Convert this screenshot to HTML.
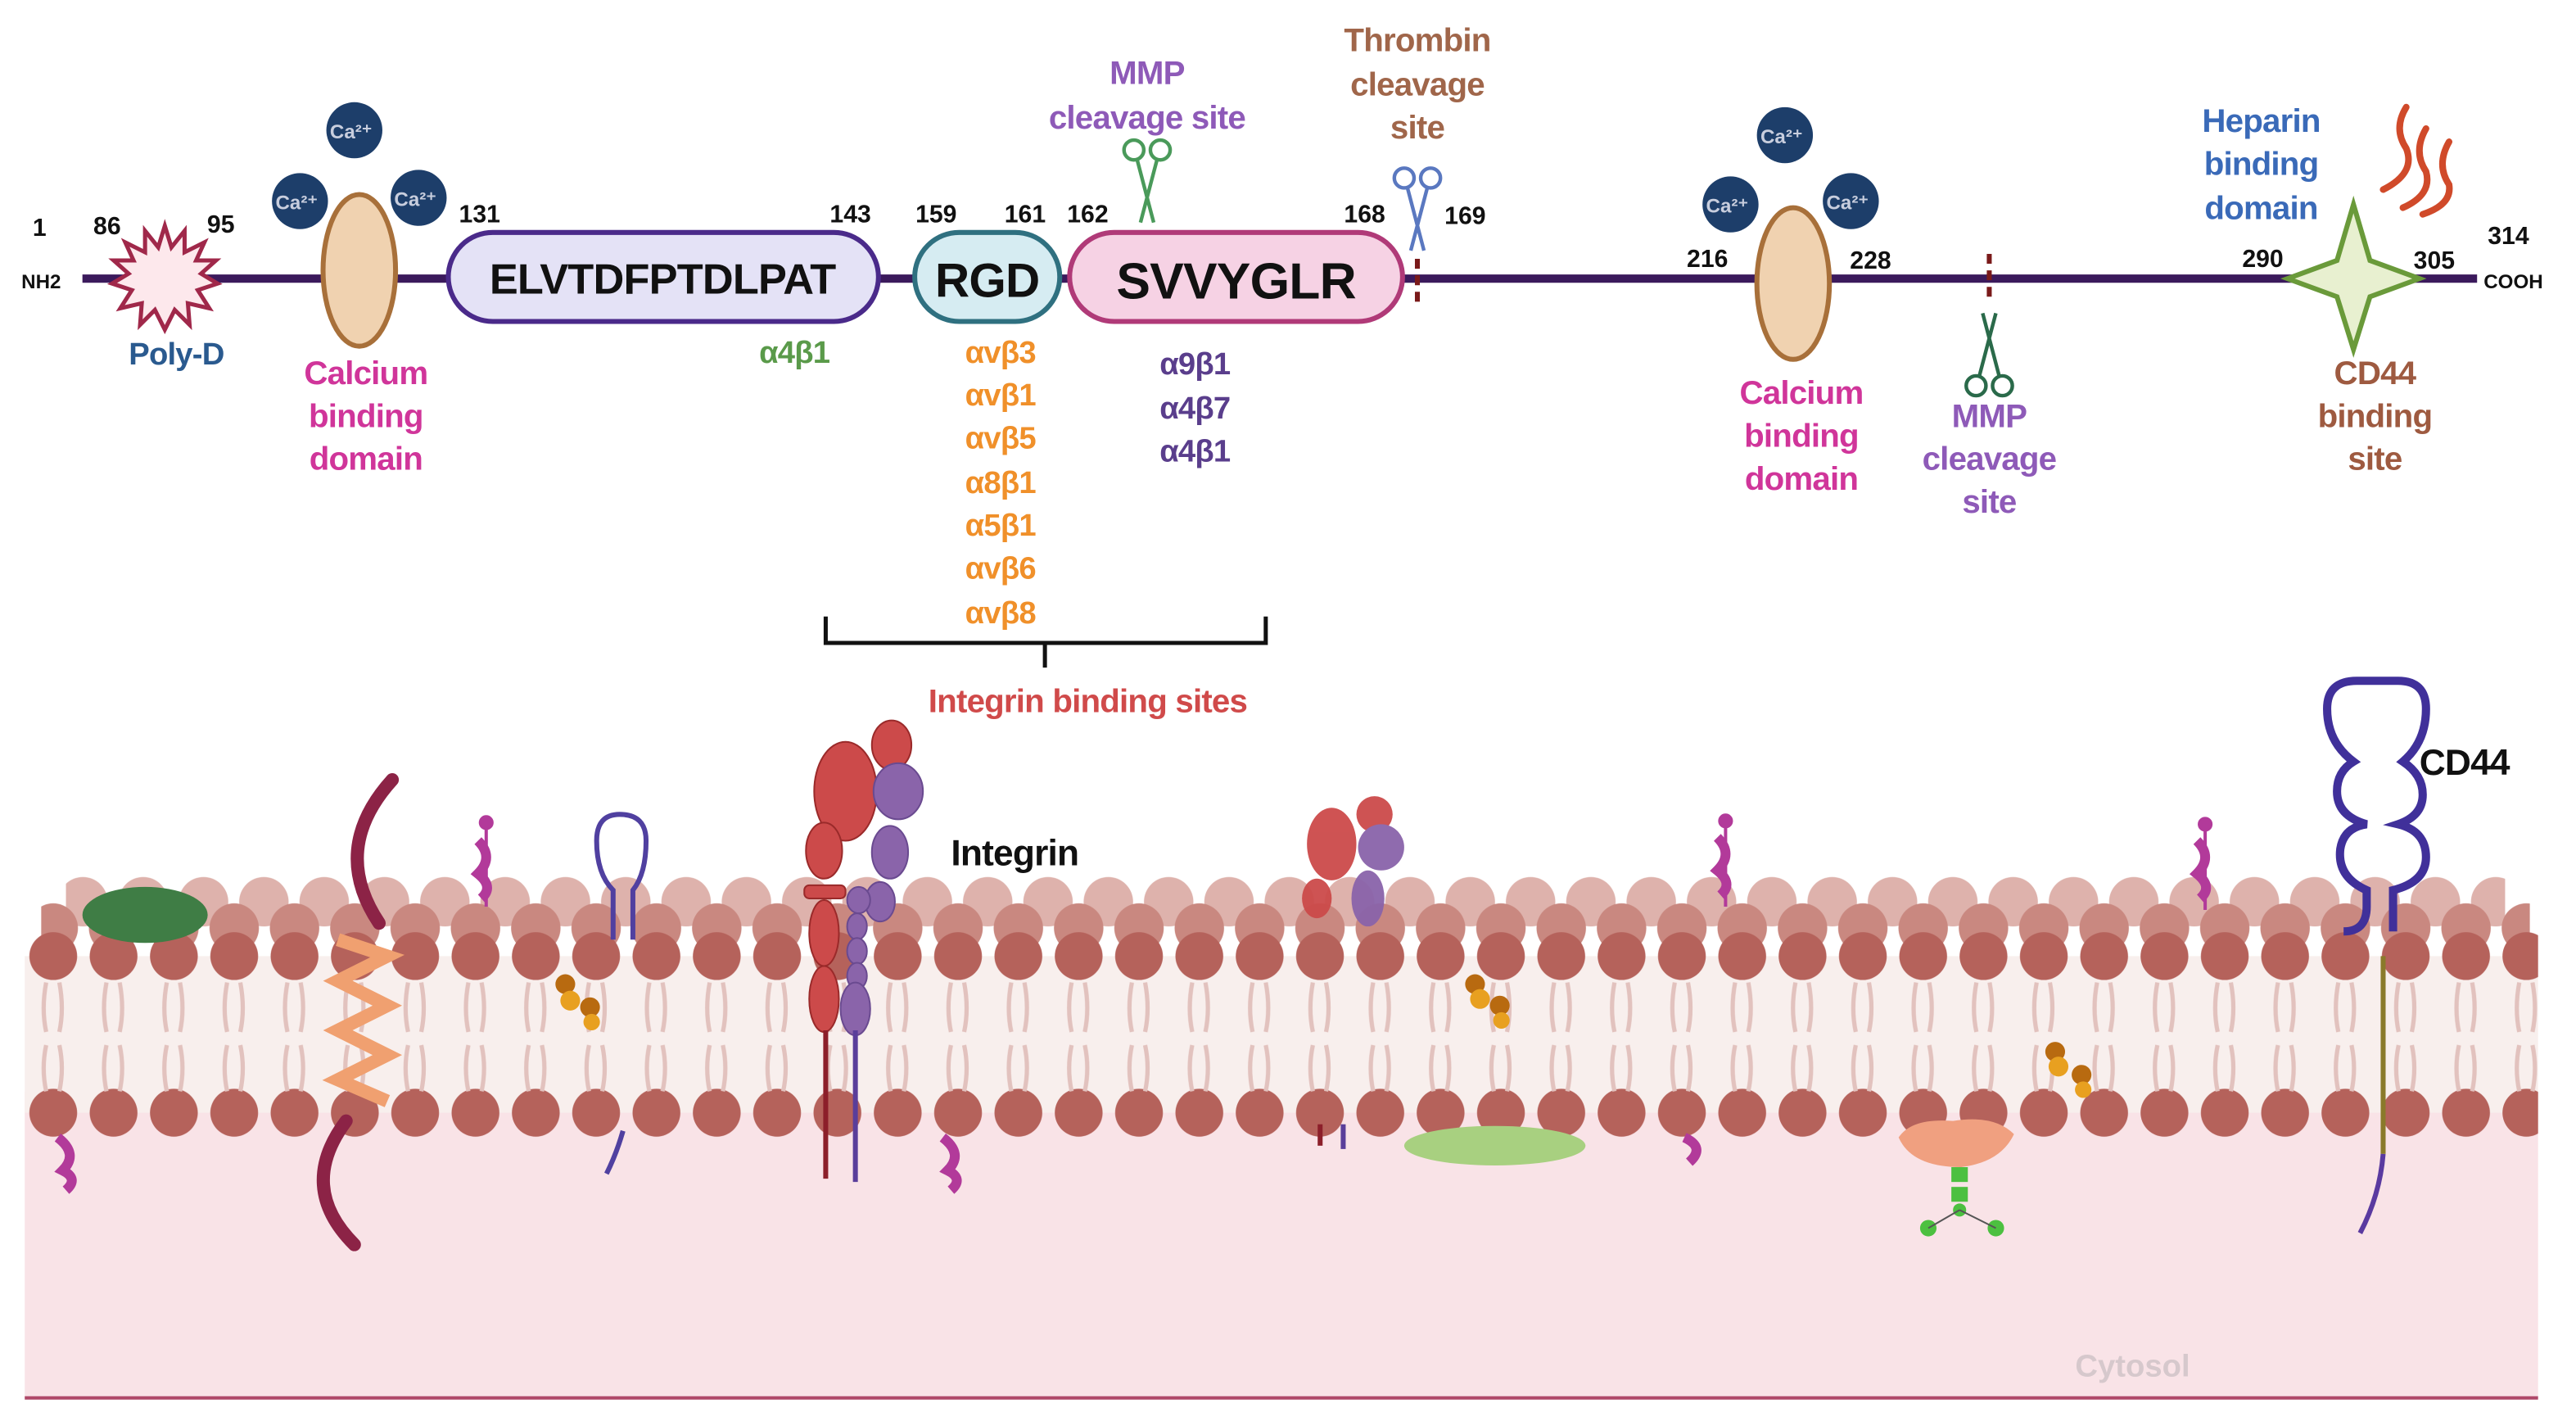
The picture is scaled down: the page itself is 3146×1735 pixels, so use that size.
<!DOCTYPE html>
<html><head><meta charset="utf-8"><style>
html,body{margin:0;padding:0;background:#fff}
svg{display:block}
text{font-family:"Liberation Sans Narrow","Liberation Sans",sans-serif;font-weight:bold}
.lb{letter-spacing:-0.4px}
</style></head><body>
<svg width="3146" height="1735" viewBox="0 0 1563 862" xmlns="http://www.w3.org/2000/svg">
<defs>
<pattern id="hf" x="14" y="0" width="36.6" height="862" patternUnits="userSpaceOnUse">
<circle cx="18.3" cy="580" r="14.5" fill="#b5625b"/>
<circle cx="18.3" cy="675" r="14.5" fill="#b5625b"/>
<path d="M14 596 Q11 612 14 626 M22 596 Q25 612 22 626 M14 634 Q11 648 14 662 M22 634 Q25 648 22 662" stroke="#e2c2be" stroke-width="2.6" fill="none"/>
</pattern>
<pattern id="hb1" x="32" y="0" width="36.6" height="862" patternUnits="userSpaceOnUse">
<circle cx="18.3" cy="547" r="15" fill="#deb2ac"/>
</pattern>
<pattern id="hb2" x="14" y="0" width="36.6" height="862" patternUnits="userSpaceOnUse">
<circle cx="18.3" cy="563" r="15" fill="#c98880"/>
</pattern>
<g id="sc">
<path d="M-6 -28 L4 10 M6 -28 L-4 10" stroke-width="2.2" fill="none"/>
<circle cx="-8" cy="-34" r="6" fill="none" stroke-width="2.2"/>
<circle cx="8" cy="-34" r="6" fill="none" stroke-width="2.2"/>
</g>
</defs>
<rect width="1563" height="862" fill="#fff"/>

<rect x="15" y="662" width="1525" height="186" fill="#f9e3e7"/>
<line x1="15" y1="848" x2="1540" y2="848" stroke="#b04a6a" stroke-width="2"/>
<text x="1294" y="835" font-size="19" fill="#d6c8cc" text-anchor="middle" font-weight="normal">Cytosol</text>
<rect x="15" y="580" width="1525" height="95" fill="#f8efed"/>
<rect x="40" y="530" width="1480" height="50" fill="url(#hb1)"/>
<rect x="25" y="545" width="1510" height="40" fill="url(#hb2)"/>
<rect x="15" y="560" width="1525" height="132" fill="url(#hf)"/>

<ellipse cx="88" cy="555" rx="38" ry="17" fill="#3f7d45"/>
<path d="M238 473 Q200 515 230 560 M210 680 Q180 720 215 755" stroke="#8c2346" stroke-width="8" fill="none" stroke-linecap="round"/>
<path d="M205 570 L235 580 L205 595 L235 610 L205 625 L235 640 L205 655 L235 668" stroke="#f0a070" stroke-width="8" fill="none"/>
<g stroke="#b23a9a" fill="#b23a9a">
<line x1="295" y1="500" x2="295" y2="550" stroke-width="2"/><circle cx="295" cy="499" r="4"/><path d="M290 510 Q300 520 290 530 Q300 538 292 545" stroke-width="6" fill="none"/>
<line x1="1047" y1="498" x2="1047" y2="550" stroke-width="2"/><circle cx="1047" cy="498" r="4"/><path d="M1042 508 Q1052 518 1042 528 Q1052 536 1044 543" stroke-width="6" fill="none"/>
<line x1="1338" y1="500" x2="1338" y2="552" stroke-width="2"/><circle cx="1338" cy="500" r="4"/><path d="M1333 510 Q1343 520 1333 530 Q1343 538 1335 545" stroke-width="6" fill="none"/>
<path d="M35 690 Q48 700 38 710 Q48 715 40 722" stroke-width="6" fill="none"/>
<path d="M572 690 Q585 700 575 710 Q585 715 577 722" stroke-width="6" fill="none"/>
<path d="M1022 690 Q1035 696 1025 705" stroke-width="6" fill="none"/>
</g>
<path d="M372 570 L372 540 Q362 530 362 510 Q362 494 376 494 Q392 494 392 510 Q392 530 384 540 L384 570" stroke="#5040a0" stroke-width="3" fill="none"/>
<path d="M378 686 Q374 700 368 712" stroke="#5040a0" stroke-width="3" fill="none"/>
<g fill="#e8a020"><circle cx="343" cy="597" r="6" fill="#b86a10"/><circle cx="346" cy="607" r="6"/><circle cx="358" cy="611" r="6" fill="#b86a10"/><circle cx="359" cy="620" r="5"/>
<circle cx="895" cy="597" r="6" fill="#b86a10"/><circle cx="898" cy="606" r="6"/><circle cx="910" cy="610" r="6" fill="#b86a10"/><circle cx="911" cy="619" r="5"/>
<circle cx="1247" cy="638" r="6" fill="#b86a10"/><circle cx="1249" cy="647" r="6"/><circle cx="1263" cy="652" r="6" fill="#b86a10"/><circle cx="1264" cy="661" r="5"/></g>
<g fill="#cc4a4a" stroke="#9a2a2a" stroke-width="1">
<ellipse cx="513" cy="480" rx="19" ry="30"/><ellipse cx="541" cy="452" rx="12" ry="15"/>
<ellipse cx="500" cy="516" rx="11" ry="17"/><rect x="488" y="537" width="25" height="8" rx="3"/>
<ellipse cx="500" cy="566" rx="9" ry="20"/><ellipse cx="500" cy="606" rx="9" ry="20"/>
</g>
<line x1="501" y1="625" x2="501" y2="715" stroke="#8c1f2a" stroke-width="3"/>
<g fill="#8a64aa" stroke="#6a4a90" stroke-width="1">
<ellipse cx="545" cy="480" rx="15" ry="17"/><ellipse cx="540" cy="517" rx="11" ry="16"/><ellipse cx="534" cy="547" rx="9" ry="12"/>
<ellipse cx="521" cy="546" rx="7" ry="8"/><ellipse cx="520" cy="562" rx="6" ry="8"/><ellipse cx="520" cy="577" rx="6" ry="8"/><ellipse cx="520" cy="592" rx="6" ry="8"/><ellipse cx="519" cy="612" rx="9" ry="16"/>
</g>
<line x1="519" y1="625" x2="519" y2="717" stroke="#5a3e9a" stroke-width="3"/>
<text x="577" y="525" font-size="22" fill="#111" class="lb">Integrin</text>
<g opacity="0.95"><ellipse cx="808" cy="512" rx="15" ry="22" fill="#cc4a4a"/><ellipse cx="834" cy="494" rx="11" ry="11" fill="#cc4a4a"/><ellipse cx="799" cy="545" rx="9" ry="12" fill="#cc4a4a"/>
<ellipse cx="838" cy="514" rx="14" ry="14" fill="#8a64aa"/><ellipse cx="830" cy="545" rx="10" ry="17" fill="#8a64aa"/></g>
<line x1="801" y1="682" x2="801" y2="695" stroke="#8c1f2a" stroke-width="3"/><line x1="815" y1="682" x2="815" y2="697" stroke="#5a3e9a" stroke-width="3"/>
<ellipse cx="907" cy="695" rx="55" ry="12" fill="#a8d080"/>
<path d="M1152 690 Q1160 678 1185 680 Q1210 676 1222 688 Q1214 705 1190 708 Q1160 708 1152 690Z" fill="#f0a080"/>
<g fill="#4cc040"><rect x="1184" y="708" width="10" height="9"/><rect x="1184" y="720" width="10" height="9"/><circle cx="1189" cy="734" r="4"/><circle cx="1170" cy="745" r="5"/><circle cx="1211" cy="745" r="5"/></g>
<path d="M1189 734 L1170 745 M1189 734 L1211 745" stroke="#555" stroke-width="1"/>
<path d="M1422 565 Q1436 565 1436 550 L1436 540 Q1418 532 1420 515 Q1422 502 1436 500 Q1418 495 1418 480 Q1418 468 1428 462 Q1412 450 1412 430 Q1412 413 1430 413 L1455 413 Q1472 413 1472 430 Q1472 450 1458 462 Q1470 470 1470 482 Q1470 495 1455 500 Q1472 504 1472 520 Q1472 535 1452 540 L1452 565" stroke="#40309a" stroke-width="5" fill="none"/>
<line x1="1446" y1="580" x2="1446" y2="700" stroke="#8a7a2a" stroke-width="3"/>
<path d="M1446 700 Q1444 725 1432 748" stroke="#5a3aa0" stroke-width="3" fill="none"/>
<text x="1468" y="470" font-size="22" fill="#111" class="lb">CD44</text>

<line x1="50" y1="169" x2="1503" y2="169" stroke="#3b1a5c" stroke-width="5"/>
<text x="13" y="175" font-size="12" fill="#111">NH2</text>
<text x="1507" y="175" font-size="12" fill="#111">COOH</text>
<g font-size="15" fill="#111" text-anchor="middle">
<text x="24" y="143">1</text><text x="65" y="142">86</text><text x="134" y="141">95</text><text x="291" y="135">131</text><text x="516" y="135">143</text><text x="568" y="135">159</text><text x="622" y="135">161</text><text x="660" y="135">162</text><text x="828" y="135">168</text><text x="889" y="136">169</text><text x="1036" y="162">216</text><text x="1135" y="163">228</text><text x="1373" y="162">290</text><text x="1477" y="163">305</text><text x="1522" y="148">314</text>
</g>
<polygon points="100,137 104,150 112,140 112,153 124,147 119,158 131,158 122,166 132,172 120,176 127,187 114,184 115,197 106,188 100,200 94,188 85,197 86,184 73,187 80,176 68,172 78,166 69,158 81,158 76,147 88,153 88,140 96,150" fill="#fde8ec" stroke="#a0284a" stroke-width="2.5"/>
<text x="107" y="221" font-size="19" fill="#2a5a8f" text-anchor="middle" class="lb">Poly-D</text>
<ellipse cx="218" cy="164" rx="22" ry="46" fill="#f0d2b0" stroke="#a8703a" stroke-width="3"/>
<g fill="#1d3e6a"><circle cx="215" cy="79" r="17"/><circle cx="182" cy="122" r="17"/><circle cx="254" cy="120" r="17"/>
<circle cx="1083" cy="82" r="17"/><circle cx="1050" cy="124" r="17"/><circle cx="1123" cy="122" r="17"/></g>
<g font-size="12" fill="#c8cede" text-anchor="middle" font-weight="normal">
<text x="213" y="84">Ca²⁺</text><text x="180" y="127">Ca²⁺</text><text x="252" y="125">Ca²⁺</text>
<text x="1081" y="87">Ca²⁺</text><text x="1048" y="129">Ca²⁺</text><text x="1121" y="127">Ca²⁺</text></g>
<g font-size="20" fill="#d0359a" text-anchor="middle" class="lb"><text x="222" y="233">Calcium</text><text x="222" y="259">binding</text><text x="222" y="285">domain</text>
<text x="1093" y="245">Calcium</text><text x="1093" y="271">binding</text><text x="1093" y="297">domain</text></g>
<ellipse cx="1088" cy="172" rx="22" ry="46" fill="#f0d2b0" stroke="#a8703a" stroke-width="3"/>
<rect x="272" y="141" width="261" height="54" rx="27" fill="#e4e2f6" stroke="#4a2a8a" stroke-width="3"/>
<text x="402" y="178" font-size="26" fill="#111" text-anchor="middle" class="lb">ELVTDFPTDLPAT</text>
<rect x="555" y="141" width="88" height="54" rx="27" fill="#d6ecf2" stroke="#2f7080" stroke-width="3"/>
<text x="599" y="180" font-size="29" fill="#111" text-anchor="middle" class="lb">RGD</text>
<rect x="649" y="141" width="202" height="54" rx="27" fill="#f6d2e4" stroke="#b03a78" stroke-width="3"/>
<text x="750" y="181" font-size="31" fill="#111" text-anchor="middle" class="lb">SVVYGLR</text>
<text x="482" y="220" font-size="19" fill="#5a9a4a" text-anchor="middle" class="lb">α4β1</text>
<g font-size="19" fill="#f0902a" text-anchor="middle" class="lb"><text x="607" y="220">αvβ3</text><text x="607" y="246">αvβ1</text><text x="607" y="272">αvβ5</text><text x="607" y="299">α8β1</text><text x="607" y="325">α5β1</text><text x="607" y="351">αvβ6</text><text x="607" y="378">αvβ8</text></g>
<g font-size="19" fill="#5a3e8c" text-anchor="middle" class="lb"><text x="725" y="227">α9β1</text><text x="725" y="254">α4β7</text><text x="725" y="280">α4β1</text></g>
<path d="M501 374 V390 H768 V374 M634 390 V405" stroke="#111" stroke-width="2.5" fill="none"/>
<text x="660" y="432" font-size="20" fill="#d04a4a" text-anchor="middle" class="lb">Integrin binding sites</text>
<g font-size="20" fill="#8e5ab8" text-anchor="middle" class="lb"><text x="696" y="51">MMP</text><text x="696" y="78">cleavage site</text>
<text x="1207" y="259">MMP</text><text x="1207" y="285">cleavage</text><text x="1207" y="311">site</text></g>
<use href="#sc" x="696" y="125" stroke="#4a9a5a"/>
<use href="#sc" x="1207" y="200" stroke="#2a6a4a" transform="rotate(180 1207 200)"/>
<g font-size="20" fill="#a0664a" text-anchor="middle" class="lb"><text x="860" y="31">Thrombin</text><text x="860" y="58">cleavage</text><text x="860" y="84">site</text></g>
<use href="#sc" x="860" y="142" stroke="#5a78c0"/>
<line x1="860" y1="157" x2="860" y2="185" stroke="#7a1a1a" stroke-width="3" stroke-dasharray="6,4"/>
<line x1="1207" y1="154" x2="1207" y2="184" stroke="#7a1a1a" stroke-width="3" stroke-dasharray="6,4"/>
<g font-size="20" fill="#3a6ab8" text-anchor="middle" class="lb"><text x="1372" y="80">Heparin</text><text x="1372" y="106">binding</text><text x="1372" y="133">domain</text></g>
<g stroke="#d04a2a" stroke-width="4" fill="none" stroke-linecap="round"><path d="M1460 65 Q1452 78 1460 90 Q1466 105 1446 115"/><path d="M1472 78 Q1464 92 1472 104 Q1476 118 1458 126"/><path d="M1486 86 Q1478 100 1486 112 Q1488 124 1470 130"/></g>
<polygon points="1428,124 1438,158 1468,169 1438,180 1428,212 1418,180 1388,169 1418,158" fill="#e8f0d0" stroke="#6a9a3a" stroke-width="3"/>
<g font-size="20" fill="#9e5a40" text-anchor="middle" class="lb"><text x="1441" y="233">CD44</text><text x="1441" y="259">binding</text><text x="1441" y="285">site</text></g>
</svg>
</body></html>
